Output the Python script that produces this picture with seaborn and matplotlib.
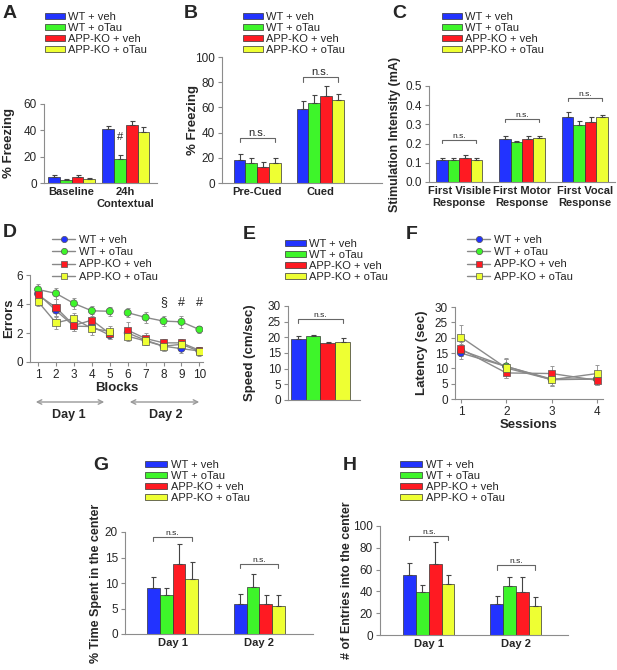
import numpy as np
import pandas as pd
import matplotlib
matplotlib.use('Agg')
import matplotlib.pyplot as plt
import seaborn as sns
from matplotlib.patches import Patch
from matplotlib.lines import Line2D

# groups / colours shared by every panel
groups = ['WT + veh', 'WT + oTau', 'APP-KO + veh', 'APP-KO + oTau']
colors = ['#2233ff', '#3ef52a', '#ff1a22', '#eeff33']

# A - contextual fear
a_cats = ['Baseline', '24h\nContextual']
a_means = [[4.5, 41.0], [2.5, 18.0], [4.5, 44.0], [3.2, 39.0]]
a_errs = [[1.5, 2.0], [0.8, 3.0], [1.2, 3.0], [0.8, 3.5]]

# B - cued fear
b_cats = ['Pre-Cued', 'Cued']
b_means = [[18.0, 59.0], [16.0, 63.5], [13.0, 69.0], [15.5, 66.0]]
b_errs = [[5.0, 6.0], [4.0, 6.5], [3.5, 8.0], [4.0, 5.0]]

# C - shock sensitivity
c_cats = ['First Visible\nResponse', 'First Motor\nResponse', 'First Vocal\nResponse']
c_means = [[0.115, 0.225, 0.34], [0.115, 0.208, 0.298], [0.125, 0.225, 0.31], [0.115, 0.228, 0.34]]
c_errs = [[0.010, 0.012, 0.025], [0.008, 0.007, 0.018], [0.015, 0.013, 0.030], [0.012, 0.010, 0.008]]

# D - radial arm water maze errors
d_blocks = [1, 2, 3, 4, 5, 6, 7, 8, 9, 10]
d_means = [[4.7, 3.55, 2.47, 2.45, 1.85, 2.0, 1.5, 1.09, 0.92, 0.76],
           [5.0, 4.73, 4.04, 3.53, 3.5, 3.4, 3.07, 2.82, 2.77, 2.24],
           [4.62, 3.76, 2.52, 2.89, 1.96, 2.19, 1.62, 1.32, 1.32, 0.81],
           [4.16, 2.7, 3.0, 2.31, 2.12, 1.78, 1.45, 1.09, 1.22, 0.74]]
d_errs = [[0.3, 0.45, 0.35, 0.35, 0.25, 0.3, 0.3, 0.3, 0.3, 0.3],
          [0.35, 0.4, 0.4, 0.35, 0.3, 0.3, 0.35, 0.35, 0.4, 0.25],
          [0.35, 0.6, 0.4, 0.4, 0.35, 0.55, 0.35, 0.3, 0.3, 0.25],
          [0.3, 0.45, 0.4, 0.45, 0.35, 0.35, 0.3, 0.3, 0.3, 0.3]]
d_days = [1, 1, 1, 1, 1, 2, 2, 2, 2, 2]

# E - swim speed
e_means = [19.6, 20.3, 18.1, 18.4]
e_errs = [0.7, 0.5, 0.3, 1.4]

# F - visible platform latency
f_sessions = [1, 2, 3, 4]
f_means = [[15.0, 10.6, 6.5, 6.5], [15.9, 10.6, 6.3, 6.5], [16.3, 8.5, 8.3, 6.1], [20.2, 10.1, 6.3, 8.3]]
f_errs = [[1.8, 2.5, 2.0, 2.0], [2.0, 2.5, 2.0, 2.0], [2.2, 1.5, 2.4, 1.5], [3.8, 3.3, 2.0, 2.8]]

# G / H - open field
gh_cats = ['Day 1', 'Day 2']
g_means = [[9.0, 5.9], [7.6, 9.3], [13.8, 5.9], [10.8, 5.4]]
g_errs = [[2.2, 2.0], [1.5, 2.4], [3.9, 1.7], [3.4, 2.2]]
h_means = [[55.5, 28.5], [39.0, 44.5], [65.5, 39.0], [46.5, 26.5]]
h_errs = [[11.0, 7.0], [7.0, 8.5], [20.0, 14.5], [9.0, 8.0]]

W, H = 617, 670
SPINE = '#8c8c8c'

sns.set_style('ticks')
plt.rcParams['font.family'] = ['Liberation Sans', 'DejaVu Sans']

fig = plt.figure(figsize=(W / 100, H / 100), dpi=100)


def fx(px):
    return px / W


def fy(py):
    return 1 - py / H


def make_ax(l, t, r, b):
    ax = fig.add_axes([l / W, 1 - b / H, (r - l) / W, (b - t) / H])
    ax._px = (l, r)
    return ax


def style(ax, xlim, ylim, yticks, ylabel, label_right, fmt=None, lsize=9.5, tsize=8.5):
    sns.despine(ax=ax)
    for s in ['left', 'bottom']:
        ax.spines[s].set_color(SPINE)
        ax.spines[s].set_linewidth(0.8)
    ax.set_xlim(xlim)
    ax.set_ylim(ylim)
    ax.set_yticks(yticks)
    if fmt:
        ax.set_yticklabels([fmt % v for v in yticks])
    ax.tick_params(axis='y', length=3, width=0.8, color=SPINE, labelsize=tsize, pad=2)
    ax.set_ylabel(ylabel, fontsize=lsize, fontweight='bold')
    l, r = ax._px
    ax.yaxis.set_label_coords((label_right - l) / (r - l), 0.5)


def bar_panel(ax, cats, means, errs, width):
    rows = []
    for g, m in zip(groups, means):
        for c, v in zip(cats, m):
            rows.append((c, g, v))
    df = pd.DataFrame(rows, columns=['cat', 'group', 'val'])
    sns.barplot(data=df, x='cat', y='val', hue='group', order=cats, hue_order=groups,
                palette=colors, saturation=1, width=width, errorbar=None,
                edgecolor='#333333', linewidth=0.5, legend=False, ax=ax)
    centers = []
    for cont, e in zip(ax.containers, errs):
        xs = [p.get_x() + p.get_width() / 2 for p in cont]
        hs = [p.get_height() for p in cont]
        ax.errorbar(xs, hs, yerr=[np.zeros(len(e)), e], fmt='none', ecolor='#444444',
                    elinewidth=0.8, capsize=1.8, capthick=0.8)
        centers.append(xs)
    ax.set_xlabel('')
    ax.set_xticks(range(len(cats)))
    ax.set_xticklabels(cats, fontweight='bold', fontsize=8)
    ax.tick_params(axis='x', length=0, pad=3)
    return np.array(centers)


def bracket(ax, x0, x1, y, h, text, fs=6):
    ax.plot([x0, x0, x1, x1], [y - h, y, y, y - h], color='#666666', lw=0.8)
    ax.text((x0 + x1) / 2, y, text, ha='center', va='bottom', fontsize=fs)


def bar_legend(x, y, hl):
    handles = [Patch(facecolor=c, edgecolor='#333333', linewidth=0.5) for c in colors]
    fig.legend(handles, groups, loc='upper left', bbox_to_anchor=(fx(x), fy(y)),
               frameon=False, fontsize=8, handlelength=hl, handleheight=0.45,
               labelspacing=0.1, handletextpad=0.3, borderpad=0, borderaxespad=0)


def line_legend(x, y):
    mk = ['o', 'o', 's', 's']
    handles = [Line2D([0], [0], color='#888888', lw=1, marker=m, markerfacecolor=c,
                      markeredgecolor='#555555', markeredgewidth=0.5, markersize=4.5)
               for m, c in zip(mk, colors)]
    fig.legend(handles, groups, loc='upper left', bbox_to_anchor=(fx(x), fy(y)),
               frameon=False, fontsize=8, handlelength=2.1, labelspacing=0.2,
               handletextpad=0.35, borderpad=0, borderaxespad=0)


def line_panel(ax, xs, means, errs, units):
    rows = []
    for g, m, e in zip(groups, means, errs):
        for x, v, u in zip(xs, m, units):
            rows.append((x, v, g, u))
    df = pd.DataFrame(rows, columns=['x', 'val', 'group', 'unit'])
    sns.lineplot(data=df, x='x', y='val', hue='group', hue_order=groups, units='unit',
                 estimator=None, palette=['#8a8a8a'] * 4, lw=1, legend=False, ax=ax, zorder=1)
    for m, e in zip(means, errs):
        ax.errorbar(xs, m, yerr=e, fmt='none', ecolor='#999999', elinewidth=0.7,
                    capsize=1.5, capthick=0.7, zorder=2)
    sns.scatterplot(data=df, x='x', y='val', hue='group', hue_order=groups, style='group',
                    style_order=groups,
                    markers={groups[0]: 'o', groups[1]: 'o', groups[2]: 's', groups[3]: 's'},
                    palette=colors, s=26, edgecolor='#555555', linewidth=0.5,
                    legend=False, ax=ax, zorder=3)
    ax.set_xlabel('')
    ax.set_xticks(xs)
    ax.tick_params(axis='x', length=3, width=0.8, color=SPINE, labelsize=8.5, pad=2)


# ---------- A ----------
ax = make_ax(44, 104, 157, 183)
cen = bar_panel(ax, a_cats, a_means, a_errs, 0.88)
style(ax, (-0.51, 1.58), (0, 60), [0, 20, 40, 60], '% Freezing', 15)
ax.text(cen[1][1], 31, '#', ha='center', va='bottom', fontsize=8)
bar_legend(45, 12, 1.8)

# ---------- B ----------
ax = make_ax(222, 57, 382, 183)
cen = bar_panel(ax, b_cats, b_means, b_errs, 0.75)
style(ax, (-0.56, 1.98), (0, 100), [0, 20, 40, 60, 80, 100], '% Freezing', 199)
bracket(ax, cen[0][0], cen[3][0], 36, 3.5, 'n.s.', fs=8)
bracket(ax, cen[0][1], cen[3][1], 84, 3.5, 'n.s.', fs=8)
bar_legend(243, 12, 1.8)

# ---------- C ----------
ax = make_ax(429, 86, 615, 182)
cen = bar_panel(ax, c_cats, c_means, c_errs, 0.73)
style(ax, (-0.48, 2.48), (0, 0.5), [0.0, 0.1, 0.2, 0.3, 0.4, 0.5],
      'Stimulation Intensity (mA)', 401, fmt='%.1f', lsize=9)
bracket(ax, cen[0][0], cen[3][0], 0.22, 0.018, 'n.s.')
bracket(ax, cen[0][1], cen[3][1], 0.33, 0.018, 'n.s.')
bracket(ax, cen[0][2], cen[3][2], 0.44, 0.018, 'n.s.')
bar_legend(442, 12, 1.8)

# ---------- D ----------
ax = make_ax(30, 275, 203, 362)
line_panel(ax, d_blocks, d_means, d_errs, d_days)
style(ax, (0.55, 10.2), (0, 6), [0, 2, 4, 6], 'Errors', 15)
ax.set_xlabel('Blocks', fontsize=9.5, fontweight='bold', labelpad=1)
for b, s in zip([8, 9, 10], ['§', '#', '#']):
    ax.text(b, 4.1, s, ha='center', va='center', fontsize=9)
for x0, x1, lab, lx in [(33, 107, 'Day 1', 69), (127, 202, 'Day 2', 166)]:
    ax.annotate('', xy=(fx(x0), fy(402)), xytext=(fx(x1), fy(402)),
                xycoords='figure fraction', textcoords='figure fraction',
                arrowprops=dict(arrowstyle='<->', color='#999999', lw=1,
                                mutation_scale=8))
    fig.text(fx(lx), fy(415), lab, ha='center', va='center', fontsize=9,
             fontweight='bold')
line_legend(52, 235)

# ---------- E ----------
ax = make_ax(288, 306, 360, 400)
rows = pd.DataFrame({'cat': ['x'] * 4, 'group': groups, 'val': e_means})
sns.barplot(data=rows, x='cat', y='val', hue='group', hue_order=groups, palette=colors,
            saturation=1, width=0.82, errorbar=None, edgecolor='#333333', linewidth=0.5,
            legend=False, ax=ax)
exs = []
for cont, e in zip(ax.containers, e_errs):
    p = cont[0]
    xc = p.get_x() + p.get_width() / 2
    exs.append(xc)
    ax.errorbar([xc], [p.get_height()], yerr=[[0], [e]], fmt='none', ecolor='#444444',
                elinewidth=0.8, capsize=1.8, capthick=0.8)
ax.set_xlabel('')
ax.set_xticks([])
style(ax, (-0.45, 0.55), (0, 30), [0, 5, 10, 15, 20, 25, 30], 'Speed (cm/sec)', 256)
bracket(ax, exs[0], exs[3], 26, 1.5, 'n.s.')
bar_legend(285, 239, 1.9)

# ---------- F ----------
ax = make_ax(455, 307, 603, 399)
line_panel(ax, f_sessions, f_means, f_errs, [1, 1, 1, 1])
style(ax, (0.87, 4.13), (0, 30), [0, 5, 10, 15, 20, 25, 30], 'Latency (sec)', 428)
ax.set_xlabel('Sessions', fontsize=9.5, fontweight='bold', labelpad=1)
line_legend(467, 235)

# ---------- G ----------
ax = make_ax(125, 532, 313, 634)
cen = bar_panel(ax, gh_cats, g_means, g_errs, 0.59)
style(ax, (-0.55, 1.62), (0, 20), [0, 5, 10, 15, 20], '% Time Spent in the center', 102,
      lsize=9)
bracket(ax, cen[0][0], cen[3][0], 19.0, 0.8, 'n.s.')
bracket(ax, cen[0][1], cen[3][1], 13.7, 0.8, 'n.s.')
bar_legend(145, 460, 2.0)

# ---------- H ----------
ax = make_ax(380, 526, 568, 635)
cen = bar_panel(ax, gh_cats, h_means, h_errs, 0.59)
style(ax, (-0.56, 1.6), (0, 100), [0, 20, 40, 60, 80, 100],
      '# of Entries into the center', 353, lsize=9)
bracket(ax, cen[0][0], cen[3][0], 91, 4, 'n.s.')
bracket(ax, cen[0][1], cen[3][1], 64, 4, 'n.s.')
bar_legend(400, 460, 2.0)

# panel letters
for lab, x, y in [('A', 3, 5), ('B', 184, 5), ('C', 392, 5), ('D', 3, 224),
                  ('E', 243, 226), ('F', 406, 226), ('G', 93, 457), ('H', 343, 457)]:
    fig.text(fx(x), fy(y), lab, ha='left', va='top', fontsize=14, fontweight='bold')

fig.savefig('out.png', dpi=100)
